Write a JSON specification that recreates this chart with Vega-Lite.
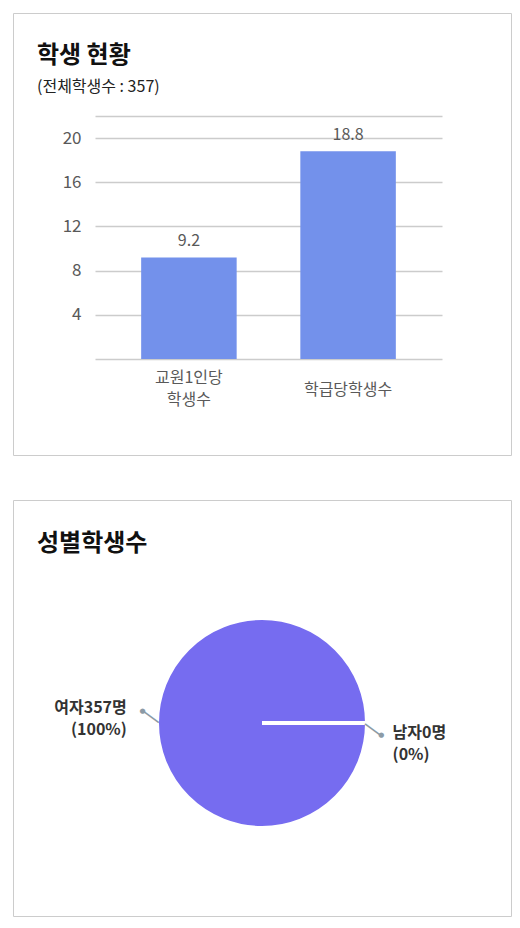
{
  "$schema": "https://vega.github.io/schema/vega-lite/v6.json",
  "padding": {"left": 12, "top": 12, "right": 10, "bottom": 12},
  "background": "white",
  "spacing": 43,
  "config": {
    "font": "Noto Sans CJK KR",
    "view": {"stroke": "#cccccc", "strokeWidth": 1}
  },
  "vconcat": [
    {
      "width": 498,
      "height": 442,
      "title": {
        "text": "학생 현황",
        "subtitle": "(전체학생수 : 357)",
        "anchor": "start",
        "frame": "group",
        "dx": 24,
        "offset": -82,
        "fontSize": 24,
        "fontWeight": "bold",
        "color": "#111111",
        "subtitleFontSize": 16,
        "subtitleColor": "#222222",
        "subtitlePadding": 11
      },
      "data": {
        "values": [
          {"category": "교원1인당 학생수", "value": 9.2},
          {"category": "학급당학생수", "value": 18.8}
        ]
      },
      "encoding": {
        "x": {
          "field": "category",
          "type": "nominal",
          "sort": null,
          "scale": {"range": [82, 429], "paddingInner": 0.4, "paddingOuter": 0.29},
          "axis": {
            "title": null,
            "orient": "bottom",
            "offset": -66,
            "ticks": false,
            "domain": false,
            "grid": false,
            "labelAngle": 0,
            "labelBaseline": "middle",
            "labelPadding": {"condition": {"test": "indexof(datum.value, ' ') >= 0", "value": -12}, "value": 0},
            "labelFontSize": 16,
            "labelColor": "#595959",
            "labelLineHeight": 22,
            "labelExpr": "split(datum.label, ' ')"
          }
        },
        "y": {
          "field": "value",
          "type": "quantitative",
          "scale": {"domain": [0, 22], "range": [346, 103], "nice": false, "zero": true},
          "axis": {
            "title": null,
            "orient": "left",
            "offset": -70,
            "values": [0, 4, 8, 12, 16, 20, 22],
            "labelExpr": "datum.value == 0 || datum.value == 22 ? '' : datum.label",
            "ticks": false,
            "domain": false,
            "grid": true,
            "gridColor": "#cccccc",
            "gridWidth": 1.5,
            "labelPadding": 2,
            "labelFontSize": 17,
            "labelColor": "#595959"
          }
        }
      },
      "layer": [
        {"mark": {"type": "bar", "color": "#7391EB"}},
        {
          "mark": {"type": "text", "baseline": "bottom", "dy": -8, "fontSize": 16, "color": "#595959"},
          "encoding": {"text": {"field": "value", "type": "quantitative", "format": ".1f"}}
        }
      ]
    },
    {
      "width": 498,
      "height": 416,
      "view": {"stroke": "#cccccc", "strokeWidth": 1, "fill": "white"},
      "title": {
        "text": "성별학생수",
        "anchor": "start",
        "frame": "group",
        "dx": 24,
        "offset": -56,
        "fontSize": 24,
        "fontWeight": "bold",
        "color": "#111111"
      },
      "data": {
        "values": [
          {"gender": "여자", "count": 357, "label": "여자357명\n(100%)"},
          {"gender": "남자", "count": 0, "label": "남자0명\n(0%)"}
        ]
      },
      "encoding": {
        "theta": {
          "field": "count",
          "type": "quantitative",
          "stack": true,
          "scale": {"range": [1.5708, 7.854], "nice": false}
        }
      },
      "layer": [
        {
          "mark": {"type": "arc", "radius": 105, "color": "#766CF0", "stroke": "white", "strokeWidth": 4, "yOffset": 15}
        },
        {
          "mark": {"type": "text", "text": "—", "font": "DejaVu Sans", "fontSize": 21, "angle": 36, "radius": 111, "thetaOffset": 0.056, "align": "center", "baseline": "middle", "color": "#8C9BA6", "yOffset": 15}
        },
        {
          "mark": {"type": "text", "text": "●", "font": "DejaVu Sans", "fontSize": 7, "radius": 120, "thetaOffset": 0.1, "align": "center", "baseline": "middle", "color": "#8C9BA6", "yOffset": 15}
        },
        {
          "transform": [{"filter": "datum.gender == '여자'"}],
          "mark": {"type": "text", "radius": 136, "thetaOffset": 0.107, "align": "right", "baseline": "middle", "lineBreak": "\n", "lineHeight": 22, "fontSize": 16, "fontWeight": "bold", "color": "#333333", "yOffset": 15},
          "encoding": {"text": {"field": "label", "type": "nominal"}}
        },
        {
          "transform": [{"filter": "datum.gender == '남자'"}],
          "mark": {"type": "text", "radius": 131, "thetaOffset": 0.076, "align": "left", "baseline": "middle", "lineBreak": "\n", "lineHeight": 22, "fontSize": 16, "fontWeight": "bold", "color": "#333333", "yOffset": 15},
          "encoding": {"text": {"field": "label", "type": "nominal"}}
        }
      ]
    }
  ]
}
